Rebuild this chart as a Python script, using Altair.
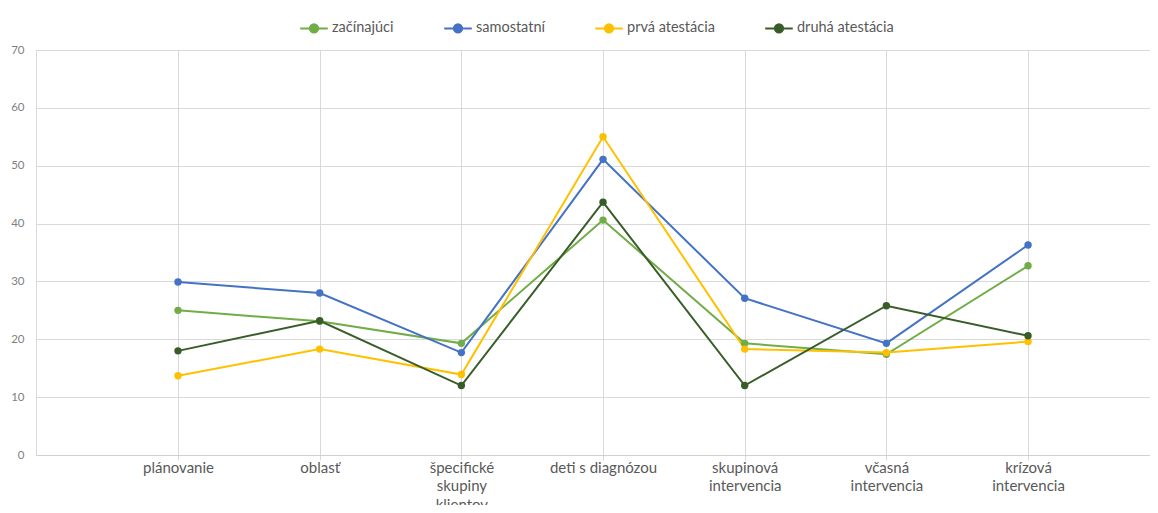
import altair as alt
import pandas as pd

categories = ["plánovanie", "oblasť", "špecifické|skupiny|klientov", "deti s diagnózou",
              "skupinová|intervencia", "včasná|intervencia", "krízová|intervencia"]
series_names = ["začínajúci", "samostatní", "prvá atestácia", "druhá atestácia"]
colors = ["#70AD47", "#4472C4", "#FFC000", "#385D28"]

zacinajuci = [25.0, 23.1, 19.3, 40.6, 19.3, 17.4, 32.7]
samostatni = [29.9, 28.0, 17.7, 51.1, 27.1, 19.3, 36.3]
prva_atestacia = [13.7, 18.3, 13.9, 55.0, 18.3, 17.7, 19.6]
druha_atestacia = [18.0, 23.2, 12.0, 43.7, 12.0, 25.8, 20.6]

all_values = [zacinajuci, samostatni, prva_atestacia, druha_atestacia]
rows = []
for name, vals in zip(series_names, all_values):
    for c, v in zip(categories, vals):
        rows.append({"kategória": c, "skupina": name, "hodnota": v})
df = pd.DataFrame(rows)

FONT = "Lato"

x = alt.X("kategória:N", sort=categories,
          scale=alt.Scale(type="point", padding=0.9316, align=0.538),
          axis=alt.Axis(title=None, labelAngle=0, grid=True, gridColor="#d9d9d9",
                        domainColor="#d0d0d0", tickColor="#d9d9d9", tickSize=5,
                        labelPadding=0, labelColor="#595959", labelFontSize=15,
                        labelFont=FONT, labelLineHeight=18.5, labelBaseline="top",
                        labelExpr="split(datum.label, '|')"))
y = alt.Y("hodnota:Q", scale=alt.Scale(domain=[0, 70], nice=False, zero=True),
          axis=alt.Axis(title=None, values=list(range(0, 71, 10)), grid=True,
                        gridColor="#d9d9d9", domain=True, domainColor="#d9d9d9",
                        ticks=False, labelPadding=12, labelColor="#7f7f7f",
                        labelFontSize=11.5, labelFont=FONT))
color = alt.Color("skupina:N", sort=series_names,
                  scale=alt.Scale(domain=series_names, range=colors),
                  legend=alt.Legend(title=None, orient="none", direction="horizontal",
                                    columns=4, legendX=263, legendY=-37,
                                    symbolType="M -1 0 L 1 0 M 0.3 0 A 0.3 0.3 0 1 1 -0.3 0 A 0.3 0.3 0 1 1 0.3 0",
                                    symbolSize=760, symbolStrokeWidth=2,
                                    labelFont=FONT, labelFontSize=14.5, labelColor="#595959",
                                    labelOffset=3, columnPadding=46))

base = alt.Chart(df).encode(x=x, y=y, color=color, detail="skupina:N")
lines = base.mark_line(strokeWidth=2)
points = base.mark_point(filled=True, size=55, opacity=1)

chart = alt.layer(lines, points).properties(
    width=1114, height=405,
    autosize=alt.AutoSizeParams(type="none"),
    padding={"left": 28, "top": 42, "right": 0, "bottom": 50},
).configure_view(stroke=None).configure(background="white")

chart.save("out.html", embed_options={"renderer": "svg", "actions": False})
